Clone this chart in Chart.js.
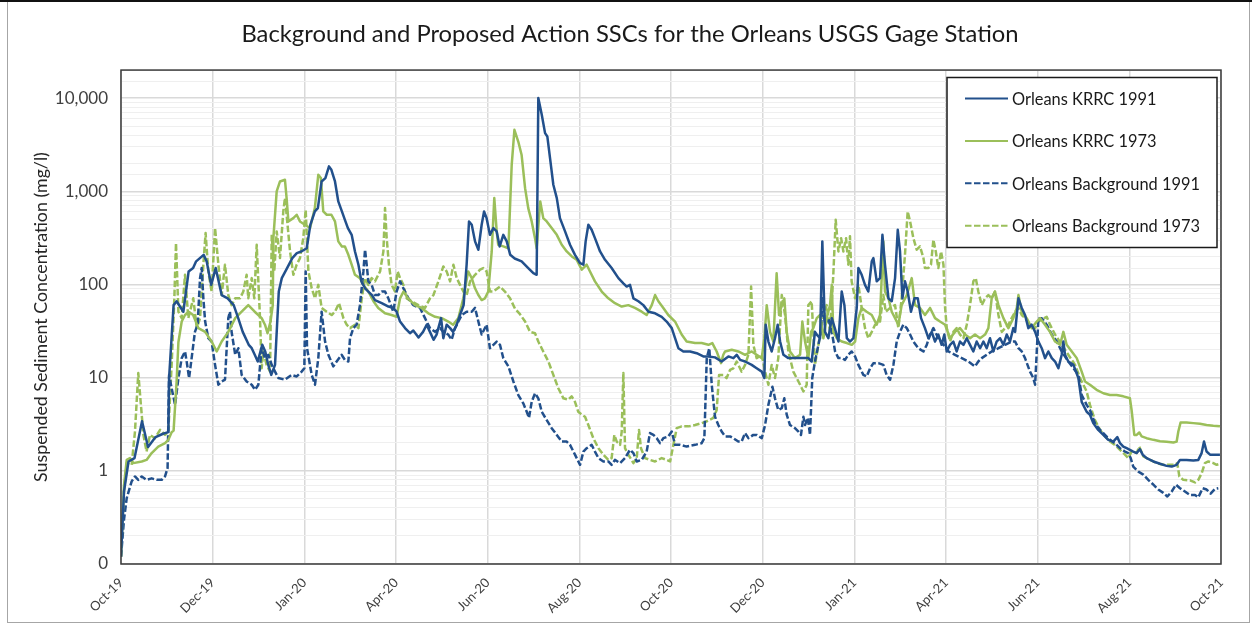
<!DOCTYPE html>
<html>
<head>
<meta charset="utf-8">
<title>Orleans USGS Gage Station SSC</title>
<script src="https://cdn.jsdelivr.net/npm/chart.js@4.4.1/dist/chart.umd.min.js"></script>
<style>
  html, body { margin: 0; padding: 0; background: #ffffff; }
  #wrap { width: 1252px; height: 625px; position: relative; }
</style>
</head>
<body>
<div id="wrap"><canvas id="ssc"></canvas></div>
<script>
// Days since 1 Oct 2019 and suspended sediment concentration (mg/l)
const krrc1991 = [[0,0.12],[2,0.6],[5,1.26],[9,1.37],[14,3.4],[18,1.8],[23,2.3],[28,2.5],[31.5,2.6],[32,9.9],[35,60],[37,66],[41.5,51],[45,138],[48,150],[50,177],[55,208],[57,177],[60,99],[63,150],[67,77],[71,71],[75,60],[78,43.5],[81,31],[85,22.5],[87,20.7],[89,17.6],[91,14.9],[94,22.5],[96,19.1],[98,13.7],[100,10.7],[102.5,13.7],[105,84],[107,117],[110,144],[114,192],[117,217],[120,226],[123.6,245],[126,437],[129,608],[131,660],[133.5,1275],[136,1385],[138.4,1850],[140,1700],[142.4,1275],[144.6,778],[147,608],[149,494],[151,403],[153.5,341],[155.7,226],[158,163],[160,108],[162.4,91],[164.6,84],[167,77],[169,68],[173.5,63],[178,58],[181,56],[183.4,51],[185.7,40],[189,34],[192.3,30],[194.5,32],[198,27],[201,31],[203.4,37],[205.6,31],[208,25.5],[210,29],[213,43.5],[214.5,26.5],[216.7,37],[219,34],[221,31],[223.4,37],[225.6,47],[228,60],[230,163],[231.6,475],[233.4,437],[235.6,290],[237.8,236],[240,437],[241.6,608],[243.3,515],[245.5,341],[247.8,403],[250,371],[252,256],[254.4,341],[256.7,290],[259,208],[262,190],[266.6,177],[271,150],[274.4,132],[276.6,127],[277.7,10000],[280,6620],[282.2,4210],[283.7,3880],[285.5,2270],[287.7,1175],[290,845],[292.1,515],[295.5,371],[298.8,267],[302.1,208],[305.5,169],[307.7,163],[309.2,290],[311,437],[313.2,386],[315.4,314],[318.8,226],[322.1,184],[326.5,150],[331,117],[334.3,103],[336.5,95],[338.7,99],[341,71],[344.3,66],[347.6,60],[351,51],[355.4,49],[359.8,45],[363.1,40],[366.5,34],[368.7,26.5],[370.9,20.7],[374.2,19.1],[378.7,19.1],[383.1,18.3],[387.5,16.9],[390.9,16.9],[395.3,16.5],[399.7,14.9],[404.2,16.9],[407.5,16.2],[409.7,17.6],[412,15.5],[415.3,14.9],[419.7,13.7],[423,12.6],[426.4,11.6],[428.1,9.9],[429,37],[430.8,24.4],[433,19.1],[435.2,26.5],[437,37],[438.6,24.4],[440.8,17.6],[444.1,16.2],[448.5,16.2],[453,16.2],[457.4,16.2],[459.6,14.9],[461.8,31],[463,29],[465.2,26.5],[466.7,290],[468.5,31],[470.7,26.5],[473,43.5],[475,34],[477.4,24.4],[479.6,84],[481.4,60],[483,26.5],[485.1,24.4],[487.4,26.5],[489.6,56],[490.7,150],[492.9,127],[495.1,99],[497.3,84],[499.6,177],[500.7,192],[502.9,108],[505.1,117],[506.7,341],[508.4,163],[510.7,71],[512.9,66],[515.1,117],[516.9,386],[518.4,226],[520,71],[521.7,108],[523.5,84],[525.7,51],[528,71],[530.2,71],[532.4,43.5],[535,34],[537.3,26.5],[539.5,31],[541.7,24.4],[543.9,29],[546.1,22.5],[547.9,29],[549.5,19.1],[551.7,22.5],[553.9,24.4],[556.1,19.1],[558.3,24.4],[560.6,22.5],[562.8,26.5],[565,22.5],[567.2,19.1],[569.4,24.4],[571.7,20.7],[573.9,24.4],[576.1,20.7],[578.3,26.5],[580.5,19.1],[582.7,24.4],[585,26.5],[587.2,22.5],[589.4,29],[591.6,24.4],[593.8,34],[595,31],[597.2,71],[599.4,56],[601.6,47],[603.8,34],[606,37],[608.3,31],[610.5,24.4],[612.7,20.7],[614.9,16.2],[617.1,19.1],[619.4,16.2],[621.6,14.9],[623.8,12.6],[626,17.6],[627.1,24.4],[628.2,17.6],[630.4,14.9],[633.8,13.7],[637.1,9.9],[639.3,5.5],[642.6,4.3],[644.8,4.0],[647,3.25],[650.3,2.75],[653.7,2.43],[657,2.15],[660.3,2.06],[663,2.3],[664.8,1.98],[667,1.82],[669.2,1.75],[671.4,1.68],[673.6,1.61],[675.9,1.55],[678,1.71],[679.9,1.49],[682.5,1.37],[687,1.26],[691.4,1.19],[695.8,1.13],[699.2,1.11],[702.5,1.16],[704.7,1.31],[709.1,1.31],[713.6,1.29],[716.9,1.31],[719.1,1.55],[720.7,2.06],[722.4,1.61],[724.7,1.49],[728,1.49],[731.3,1.49]];

const krrc1973 = [[0,0.12],[2,0.7],[3.8,1.31],[6,1.37],[8.2,1.21],[13.8,1.26],[17,1.31],[20.4,1.55],[24.8,1.82],[29.3,1.98],[31.5,2.15],[33.7,2.6],[35,2.7],[37,9],[38.2,24],[40.4,40],[42.6,47],[45,51],[48,47],[51.5,34],[56,31],[60.3,24.4],[63.7,19.1],[67,24.4],[71.4,31],[76,43.5],[80.3,51],[84.7,60],[89,51],[93.6,43.5],[95.8,37],[97.5,30],[99.5,40],[101,60],[101.4,314],[103.6,996],[105.8,1275],[109.1,1330],[110.2,845],[111.4,475],[114.7,515],[116.9,560],[119.1,475],[122.4,437],[125.8,403],[129,660],[131.3,1505],[133,1385],[134.6,608],[136.9,560],[140,560],[142.4,475],[144.6,290],[147,256],[149,256],[151.3,208],[153.5,163],[155.7,127],[159,117],[161.3,99],[164.6,84],[168,66],[171.2,56],[175.7,49],[180,47],[183.4,45],[185.7,71],[188,84],[191,71],[195.6,60],[200,56],[204.5,49],[209,45],[213.4,43.5],[217.8,40],[221,37],[224.5,43.5],[227.8,71],[231,138],[233.4,117],[235.6,91],[237.8,77],[240,68],[242.2,71],[244.4,84],[246.7,226],[248.4,845],[250,371],[251,267],[254.4,256],[257.8,245],[260,1925],[261.8,4570],[264.4,3400],[266.6,2450],[268.9,1080],[271,660],[273.3,475],[275.5,314],[276.6,245],[279,778],[281,515],[283.3,475],[286.6,403],[290,341],[293.3,267],[296.6,226],[300,200],[303.2,184],[306.6,144],[309.9,163],[312.1,138],[315.4,108],[319.9,84],[324.3,71],[328.7,63],[333.2,58],[337.6,60],[342,56],[346.5,51],[349.8,47],[353.2,60],[355.4,77],[357.6,66],[360.9,56],[364.2,47],[368.7,40],[373.1,29],[376.4,24.4],[382,23.5],[386.4,23.5],[390.9,22.5],[393.5,23.5],[396.4,19.1],[399.3,14.3],[400.8,17.6],[402,19.1],[406.4,19.9],[410.8,19.1],[415.3,17.6],[419.7,19.1],[423,17.6],[426.4,16.2],[428.1,26.5],[429.7,60],[431.9,31],[434.1,24.4],[436.3,132],[437.9,47],[439.7,60],[441.4,71],[443,31],[445.2,19.1],[448.5,16.2],[451.9,17.6],[453.4,40],[455.2,24.4],[457.4,16.2],[459.2,31],[460.7,34],[463,43.5],[465.2,47],[467.4,26.5],[469.6,43.5],[471.8,60],[473,99],[474,31],[476.3,26.5],[479.6,24.4],[483,23.5],[486.3,22.5],[488.5,24.4],[490.7,43.5],[492.9,56],[496.2,51],[499.6,47],[502.9,37],[505.1,47],[507.3,290],[508.4,84],[510.7,71],[512.9,51],[515.1,43.5],[517.3,37],[519.5,60],[522.9,77],[526.2,117],[528.4,60],[531.7,56],[535,47],[538.4,56],[541.7,43.5],[545,40],[548.4,37],[551.7,26.5],[555,31],[558.3,34],[561.7,29],[565,26.5],[568.3,29],[571.7,26.5],[575,29],[577.2,34],[579.4,71],[581.6,84],[583.9,60],[587.2,43.5],[590.5,34],[593.8,43.5],[596.1,56],[597.2,77],[599.4,51],[602.7,43.5],[606,34],[609.4,40],[611.6,43.5],[614.9,37],[618.2,31],[621.6,24.4],[624.9,22.5],[627.1,31],[629.3,22.5],[632.7,19.1],[636,16.2],[639.3,11.6],[641.5,9.1],[644.8,8.4],[649.2,7.4],[653.7,6.8],[658.1,6.5],[662.5,6.5],[667,6.3],[671.4,6.0],[672.5,4.5],[674.3,2.43],[675.9,2.43],[677.6,2.58],[679.2,2.34],[682.5,2.24],[687,2.15],[691.4,2.08],[695.8,2.05],[700.3,2.01],[702.5,2.06],[703.6,2.64],[705.1,3.3],[709.1,3.3],[713.6,3.25],[718,3.2],[722.4,3.1],[726.9,3.04],[731.3,3.0]];

const background1991 = [[0,0.12],[2,0.3],[3.8,0.51],[7.1,0.77],[9.3,0.87],[11.5,0.8],[13.8,0.87],[17,0.8],[20.4,0.83],[23.7,0.8],[27.1,0.8],[29.3,0.87],[31,1.07],[32,10.7],[33.7,7.7],[36,5.1],[38.2,9.9],[40.4,16.2],[42.6,19.1],[43.7,14.9],[45.3,9.9],[47,16.2],[49.2,31],[51,37],[52.6,117],[53.7,150],[54.8,71],[56,40],[58.1,26.5],[60.3,24.4],[62.6,13.7],[64.8,8.4],[67,9.1],[69.2,9.5],[71.4,43.5],[72.5,51],[73.6,31],[76,17.6],[78.1,20.7],[80.3,10.7],[83.6,9.1],[87,8.4],[89.2,7.4],[91.4,8.4],[93.6,20.7],[95.8,16.2],[98,17.6],[100.3,13.7],[102.5,11.6],[104.7,9.9],[109.1,9.5],[113.6,10.7],[116.9,10.3],[120.2,11.6],[122,12.6],[122.9,138],[123.8,20.7],[126.9,10.7],[129.1,8.4],[131.3,16.2],[133.5,51],[135.8,24.4],[138,17.6],[141.3,13.2],[143.5,14.9],[146.8,17.6],[149,15.5],[151.3,14.9],[152.4,26.5],[154.6,34],[156.8,37],[159,60],[161.3,138],[162.4,236],[163.5,163],[164.6,108],[166.8,99],[169,77],[171.2,77],[173.5,84],[175.7,84],[177.9,71],[181.2,51],[183.4,84],[185.7,108],[187.9,91],[191.2,71],[194.5,60],[199,56],[202.3,43.5],[205.6,34],[209,31],[212.3,34],[214.5,31],[217.8,29],[220,25.5],[222.3,34],[224.5,40],[226.7,47],[230,51],[233.4,51],[235.6,56],[237.8,40],[240,29],[243.3,37],[245.5,20.7],[247.8,22.5],[250,24.4],[252.2,22.5],[254.4,16.2],[257.8,13.2],[261.1,9.1],[264.4,6.5],[267.7,5.3],[270,4.3],[271.5,3.7],[273.3,5.5],[275.5,6.8],[277.7,6.0],[280,4.3],[283.3,3.5],[286.6,2.87],[290,2.43],[293.3,2.06],[296.6,2.06],[298.8,1.9],[302.1,1.49],[305.5,1.16],[307.7,1.61],[309.9,1.75],[313.2,1.9],[315.4,1.61],[317.7,1.37],[321,1.26],[324.3,1.26],[326.5,1.16],[328.7,1.31],[332.1,1.21],[335.4,1.37],[338.7,1.68],[341,1.55],[343.2,1.26],[346.5,1.31],[349.8,1.61],[352,2.54],[354.3,2.43],[356.5,2.24],[358.7,1.98],[360.9,2.24],[364.2,2.34],[366.5,2.64],[368.7,1.9],[372,1.9],[376.4,1.82],[382,1.9],[386.4,1.98],[388.2,2.24],[389.8,16.2],[391.5,20.7],[393.1,8.4],[395.3,3.8],[397.5,3.1],[399.7,2.64],[402,2.34],[405.3,2.34],[407.5,2.24],[410.8,2.06],[413,2.06],[415.3,2.54],[417.5,2.24],[420.8,2.43],[423,2.43],[426.4,2.24],[428.6,3.1],[430.8,5.1],[433.5,8.0],[435.2,6.0],[437.4,4.5],[439.7,4.7],[441.4,6.0],[443,4.0],[445.2,3.1],[448.5,2.87],[450.8,2.64],[452.5,2.43],[454.1,3.8],[455.2,3.1],[457,3.7],[458.5,2.43],[460,9.9],[461.8,14.9],[464.1,22.5],[465.8,31],[466.7,71],[468.5,37],[470.7,43.5],[473,31],[475.2,19.1],[477.4,16.2],[479.6,16.2],[481.8,15.5],[484,17.6],[486.2,19.1],[488.5,16.9],[490.7,13.7],[494,10.7],[496.2,10.3],[498.5,12.6],[500.7,14.3],[504,14.3],[507.3,13.7],[509.5,10.7],[511.8,9.5],[514,13.7],[516.2,24.4],[518.4,31],[520.6,37],[522.9,34],[525.1,29],[527.3,24.4],[530.6,20.7],[534,19.1],[536.2,22.5],[538.4,29],[540.6,34],[543.9,26.5],[547.3,22.5],[550.6,19.1],[555,17.6],[559.5,16.2],[563.9,14.9],[568.3,13.2],[570.5,14.9],[572.8,16.2],[576.1,17.6],[579.4,19.1],[583.9,20.7],[588.3,22.5],[592.7,24.4],[595,24.4],[597.2,20.7],[599.4,19.1],[601.6,16.2],[604.9,11.6],[607.1,9.9],[608.3,8.4],[609.4,19.1],[610.5,43.5],[612.7,43.5],[616,37],[619.4,29],[622.7,24.4],[626,19.1],[630.4,14.9],[633.8,12.6],[637.1,10.7],[639.3,6.5],[642.6,5.1],[644.8,4.5],[648.1,3.25],[651.5,2.75],[654.8,2.43],[658.1,2.15],[661.4,1.98],[664.8,1.75],[668.1,1.61],[670.3,1.55],[671.9,1.37],[673.6,1.11],[677,0.98],[680.3,0.91],[683.6,0.8],[687,0.71],[690.3,0.63],[693.6,0.58],[696.3,0.53],[699.2,0.6],[702,0.71],[704.7,0.65],[708,0.6],[711.4,0.55],[714.7,0.55],[716.9,0.52],[719.8,0.65],[722.4,0.63],[725.1,0.57],[728,0.64],[730.2,0.65]];

const background1973 = [[0,0.12],[2,0.6],[3.8,1.21],[7.1,1.16],[9.3,2.64],[11.5,11.2],[14.9,2.43],[17,1.61],[19.3,2.43],[22.6,2.24],[26,2.75],[29.3,2.43],[31.5,2.64],[33.7,13.7],[35.5,71],[36.6,278],[38.2,51],[40.4,43.5],[42.6,127],[44.8,43.5],[48.1,71],[50.4,34],[52.6,43.5],[54.8,163],[56.3,356],[58.1,138],[60.3,84],[62.6,403],[64.8,163],[67,77],[69.2,163],[71.4,77],[73.6,60],[76,71],[79.2,71],[81.4,84],[83.6,127],[84.7,71],[87,117],[88.7,71],[90.3,267],[92.5,43.5],[93.6,12.6],[94.7,19.1],[96.9,13.7],[99.2,11.6],[100.3,341],[102,138],[103.6,371],[105.8,192],[108,608],[109.1,845],[110.2,560],[112.5,226],[114.7,127],[116.9,163],[119.1,192],[121.3,314],[122.9,634],[124.7,138],[126.9,91],[129.1,71],[131.3,99],[133.5,56],[136.9,51],[140.2,47],[142.4,51],[145.1,63],[148,43.5],[150.2,37],[152.4,34],[155.7,37],[158,34],[160.2,71],[162.4,117],[164.6,99],[166.8,117],[169,108],[172.4,138],[174.6,226],[175.7,660],[176.8,314],[178.3,163],[180.1,99],[182.3,84],[184.1,138],[185.7,117],[187.9,99],[190.1,71],[193.4,66],[197.9,60],[202.3,56],[205.6,71],[207.9,77],[211.2,108],[214.5,156],[216.7,138],[219,108],[221.2,163],[223.4,117],[225.6,99],[227.8,84],[230,77],[232.3,108],[235.6,127],[238.9,144],[241.1,150],[243.3,138],[245.5,84],[247.8,84],[252.2,95],[255.5,84],[258.9,71],[262.2,55],[265.5,48],[268.9,40],[272.2,31],[275.5,30],[277.7,24.4],[281,19.1],[284.4,14.9],[287.7,10.7],[291,7.7],[294.4,6.0],[297.7,5.8],[299.9,6.3],[302.1,5.5],[304.3,4.3],[306.6,4.0],[308.8,3.8],[311,3.1],[314.3,2.24],[317.7,1.75],[321,1.49],[324.3,1.31],[326.5,1.37],[328.3,2.43],[329.9,2.06],[332.1,1.9],[333.2,2.64],[334.3,11.2],[335.4,1.75],[337.6,1.49],[341,1.21],[343.2,1.37],[344.7,2.75],[346,1.75],[348.7,1.37],[352,1.31],[355.4,1.26],[359.8,1.37],[363.1,1.31],[365.4,1.26],[367.6,1.9],[369.8,2.87],[373.1,3.0],[377.6,3.0],[382,3.1],[386.4,3.25],[389.8,3.4],[394.2,3.7],[396.4,4.5],[398,10.7],[400.8,10.7],[403,9.9],[405.3,12.1],[407.5,12.6],[409.7,14.9],[413,11.6],[415.3,13.7],[417.5,17.6],[419.3,95],[420.8,22.5],[423,16.2],[426.4,17.6],[428.6,11.6],[430.8,8.4],[433,13.7],[435.2,9.9],[437.4,16.2],[439.7,77],[441.9,47],[444.1,19.1],[447.4,11.6],[450.8,9.1],[454.1,7.1],[456.3,8.4],[457.4,60],[459.6,66],[461.8,13.7],[464.1,22.5],[466.3,37],[469.6,60],[471.8,31],[474,127],[475.6,494],[477.4,226],[479.2,314],[480.7,226],[482.5,314],[484,163],[485.1,330],[486.2,108],[488.5,71],[490.7,99],[492.9,56],[495.1,34],[497.3,26.5],[499.6,31],[501.8,37],[505.1,40],[507.3,77],[508.9,51],[511.8,56],[515.1,60],[517.3,34],[519.5,71],[521.7,208],[523.5,608],[525.1,475],[527.3,314],[529.5,236],[531.7,256],[534,192],[535,150],[537.3,150],[539,163],[540.6,302],[542.2,226],[543.9,150],[545.7,226],[547.3,163],[548.4,56],[549.5,34],[551.7,24.4],[553.9,31],[556.1,34],[558.3,29],[560.6,26.5],[562.8,37],[565,60],[567.2,108],[568.8,117],[570.5,84],[572.8,60],[575,71],[577.2,77],[579.4,71],[581.6,84],[583.9,47],[586.1,31],[588.3,34],[590.5,37],[592.7,43.5],[595,51],[597.2,56],[599.4,47],[601.6,43.5],[604.9,37],[608.3,34],[610.5,40],[612.7,42],[616,45],[618.2,37],[621.6,29],[626,22.5],[630.4,17.6],[634.9,13.7],[638.2,9.9],[640.4,8.4],[642.6,7.1],[644.8,5.1],[648.1,3.5],[651.5,2.75],[654.8,2.34],[658.1,2.06],[661.4,1.9],[664.8,1.68],[668.1,1.49],[670.3,1.37],[672.5,1.61],[675.9,1.55],[677.6,1.82],[680.3,1.43],[684.7,1.31],[689.2,1.21],[693.6,1.16],[698,1.16],[701.4,1.16],[702.9,1.21],[704.3,0.87],[706.9,0.8],[711.4,0.79],[714.7,0.75],[716.9,0.8],[719.1,0.94],[721.3,1.21],[723.6,1.26],[726.9,1.21],[729.1,1.16],[731.3,1.19]];

// Category axis: one tick every 61 days
const xTickDays = [0, 61, 122, 183, 244, 305, 366, 427, 488, 549, 610, 671, 732];
const xTickLabels = ['Oct-19','Dec-19','Jan-20','Apr-20','Jun-20','Aug-20','Oct-20','Dec-20','Jan-21','Apr-21','Jun-21','Aug-21','Oct-21'];

const seriesNames = ['Orleans KRRC 1991','Orleans KRRC 1973','Orleans Background 1991','Orleans Background 1973'];

const FONT = 'Lato, "Open Sans", "DejaVu Sans", sans-serif';
const BLUE = '#22508c';
const GREEN = '#9bbf5a';
const DASH = [6.5, 2.5];

function isDecade(v) {
  const l = Math.log10(v);
  return Math.abs(l - Math.round(l)) < 1e-6;
}

// Page frame and white background
const framePlugin = {
  id: 'frame',
  beforeDraw(chart) {
    const ctx = chart.ctx;
    ctx.save();
    ctx.fillStyle = '#ffffff';
    ctx.fillRect(0, 0, chart.width, chart.height);
    ctx.strokeStyle = '#a6a6a6';
    ctx.lineWidth = 1;
    ctx.strokeRect(7.5, 1.5, chart.width - 10, chart.height - 4);
    ctx.strokeStyle = '#111111';
    ctx.lineWidth = 2;
    ctx.beginPath();
    ctx.moveTo(0, 1);
    ctx.lineTo(chart.width, 1);
    ctx.stroke();
    ctx.restore();
  }
};

// Outline round the plot area
const plotBorderPlugin = {
  id: 'plotBorder',
  afterDatasetsDraw(chart) {
    const {ctx, chartArea: a} = chart;
    ctx.save();
    ctx.strokeStyle = '#3a3a3a';
    ctx.lineWidth = 1.5;
    ctx.strokeRect(a.left, a.top, a.right - a.left, a.bottom - a.top);
    ctx.restore();
  }
};

// Boxed legend inside the upper right of the plot
const boxLegendPlugin = {
  id: 'boxLegend',
  afterDraw(chart) {
    const ctx = chart.ctx;
    const bx = 947, by = 77.5, bw = 270, bh = 170;
    ctx.save();
    ctx.fillStyle = '#ffffff';
    ctx.fillRect(bx, by, bw, bh);
    ctx.strokeStyle = '#1a1a1a';
    ctx.lineWidth = 1.5;
    ctx.strokeRect(bx, by, bw, bh);
    ctx.font = '16.4px ' + FONT;
    ctx.textBaseline = 'middle';
    ctx.textAlign = 'left';
    chart.data.datasets.forEach((ds, i) => {
      const y = 98.5 + i * 42.4;
      ctx.beginPath();
      ctx.strokeStyle = ds.borderColor;
      ctx.lineWidth = 2;
      ctx.setLineDash(ds.borderDash || []);
      ctx.moveTo(965, y);
      ctx.lineTo(1008, y);
      ctx.stroke();
      ctx.setLineDash([]);
      ctx.fillStyle = '#1a1a1a';
      ctx.fillText(ds.label, 1012, y + 1);
    });
    ctx.restore();
  }
};

const mkSet = (label, data, color, dash) => ({
  label, data,
  borderColor: color,
  backgroundColor: color,
  borderWidth: 2.5,
  borderDash: dash,
  borderJoinStyle: 'round',
  borderCapStyle: 'butt',
  pointRadius: 0,
  pointHoverRadius: 0,
  tension: 0,
  fill: false
});

new Chart(document.getElementById('ssc'), {
  type: 'line',
  data: {
    datasets: [
      mkSet(seriesNames[0], krrc1991, BLUE, []),
      mkSet(seriesNames[1], krrc1973, GREEN, []),
      mkSet(seriesNames[2], background1991, BLUE, DASH),
      mkSet(seriesNames[3], background1973, GREEN, DASH)
    ]
  },
  options: {
    responsive: true,
    maintainAspectRatio: false,
    animation: false,
    devicePixelRatio: 1,
    layout: { padding: { left: 8, right: 0, top: 0, bottom: 0 } },
    plugins: {
      legend: { display: false },
      tooltip: { enabled: false },
      title: {
        display: true,
        text: 'Background and Proposed Action SSCs for the Orleans USGS Gage Station',
        color: '#1a1a1a',
        font: { family: FONT, size: 23.8, weight: 'normal' },
        padding: { top: 20.5, bottom: 21 }
      }
    },
    scales: {
      x: {
        type: 'linear',
        min: 0,
        max: 732,
        afterBuildTicks(scale) {
          scale.ticks = xTickDays.map(v => ({ value: v }));
        },
        afterFit(scale) { scale.height = 61; },
        ticks: {
          autoSkip: false,
          minRotation: 45,
          maxRotation: 45,
          padding: 11,
          color: '#404040',
          font: { family: FONT, size: 13 },
          callback(value) {
            const i = xTickDays.indexOf(value);
            return i >= 0 ? xTickLabels[i] : '';
          }
        },
        grid: { color: '#d9d9d9', lineWidth: 1.5, drawTicks: false },
        border: { display: false }
      },
      y: {
        type: 'logarithmic',
        min: 0.1,
        max: 20000,
        afterFit(scale) { scale.width = 113; },
        ticks: {
          autoSkip: false,
          padding: 13,
          color: '#404040',
          font: { family: FONT, size: 17 },
          callback(value) {
            if (!isDecade(value) || value > 10000) return '';
            return value < 1 ? '0' : Number(value).toLocaleString('en-US');
          }
        },
        grid: {
          drawTicks: false,
          color: ctx => (ctx.tick && isDecade(ctx.tick.value)) ? '#d9d9d9' : '#efefef',
          lineWidth: ctx => (ctx.tick && isDecade(ctx.tick.value)) ? 1.5 : 1
        },
        border: { display: false },
        title: {
          display: true,
          text: 'Suspended Sediment Concentration (mg/l)',
          color: '#262626',
          font: { family: FONT, size: 17.8 },
          padding: { top: 23, bottom: 0 }
        }
      },
      // empty right-hand margin beside the plot
      yRight: {
        type: 'linear',
        position: 'right',
        display: true,
        afterFit(scale) { scale.width = 31; },
        ticks: { display: false },
        grid: { display: false, drawOnChartArea: false },
        border: { display: false }
      }
    }
  },
  plugins: [framePlugin, plotBorderPlugin, boxLegendPlugin]
});
</script>
</body>
</html>
